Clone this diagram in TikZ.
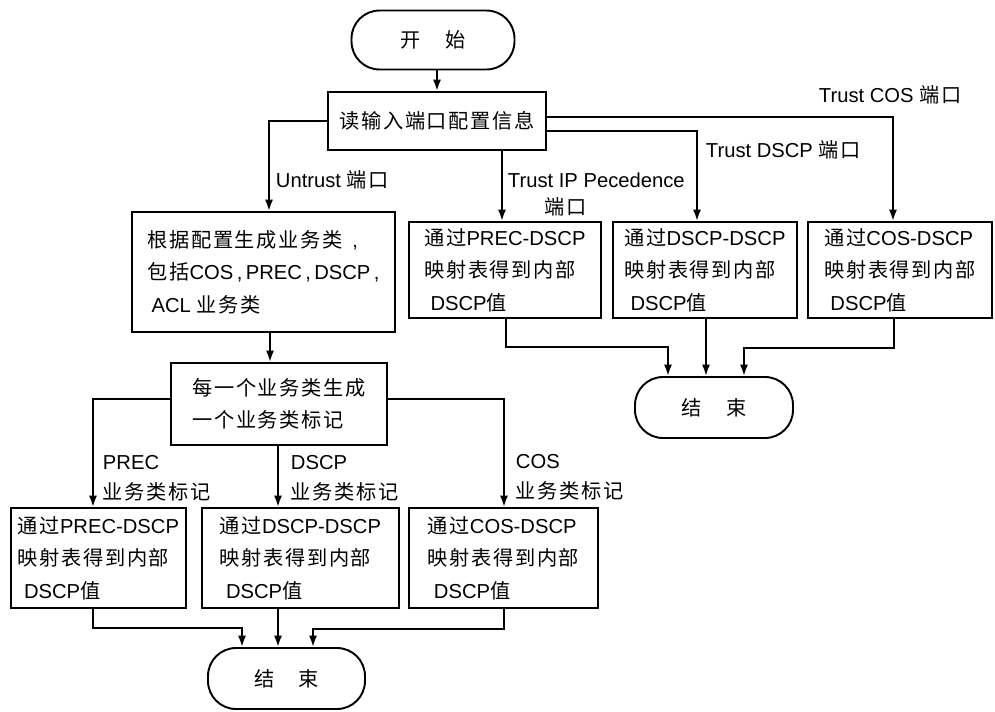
\documentclass[tikz,border=0pt]{standalone}
\usepackage{fontspec}
\setmainfont{Liberation Sans}
\newfontfamily\cjk[LetterSpace=8]{Noto Sans CJK SC}
\newcommand{\zh}[1]{{\cjk #1}}
\usetikzlibrary{arrows.meta}
\usetikzlibrary{calc}

\begin{document}
\begin{tikzpicture}[x=0.02cm, y=-0.02cm, line width=1.1pt,
    font=\fontsize{11.5}{18.5}\selectfont,
    boite/.style={draw, align=left, inner sep=0pt},
    terminal/.style={draw, rounded corners=0.56cm},
    fleche/.style={-{Latex[length=6.5pt,width=4.6pt]}},
    etiq/.style={anchor=west, align=left, inner sep=0pt, font=\fontsize{11.5}{17}\selectfont}]
    \useasboundingbox (0,0) rectangle (995,711);

    % --- Début et lecture de la configuration ---
    \node[terminal, minimum width=3.26cm, minimum height=1.18cm] (debut) at (433,40) {\zh{开\hspace{1.2em}始}};
    \node[boite, minimum width=4.36cm, minimum height=1.16cm] (lire) at (437,121) {\zh{读输入端口配置信息}};

    % --- Branche Untrust ---
    \node[boite, minimum width=5.26cm, minimum height=2.4cm] (classes) at (263.5,272)
        {\zh{根据配置生成业务类}\enspace,\\\zh{包括}COS\,,\,PREC\,,\,DSCP\,,\\\hspace*{0.2em}ACL \zh{业务类}};
    \node[boite, minimum width=4.32cm, minimum height=1.64cm] (marque) at (279,404)
        {\zh{每一个业务类生成}\\\zh{一个业务类标记}};

    % --- Boîtes du bas (marques de classe) ---
    \node[boite, minimum width=3.5cm, minimum height=2cm] (precG) at (98.5,558)
        {\zh{通过}PREC-DSCP\\\zh{映射表得到内部}\\\hspace*{0.3em}DSCP\zh{值}};
    \node[boite, minimum width=3.94cm, minimum height=2cm] (dscpG) at (300.5,558)
        {\zh{通过}DSCP-DSCP\\\zh{映射表得到内部}\\\hspace*{0.3em}DSCP\zh{值}};
    \node[boite, minimum width=3.78cm, minimum height=2cm] (cosG) at (503.5,558)
        {\zh{通过}COS-DSCP\\\zh{映射表得到内部}\\\hspace*{0.3em}DSCP\zh{值}};
    \node[terminal, minimum width=3.14cm, minimum height=1.22cm] (finG) at (286.5,678.5) {\zh{结\hspace{1.2em}束}};

    % --- Boîtes de droite (ports Trust) ---
    \node[boite, minimum width=3.84cm, minimum height=1.92cm] (precD) at (505,270)
        {\zh{通过}PREC-DSCP\\\zh{映射表得到内部}\\\hspace*{0.3em}DSCP\zh{值}};
    \node[boite, minimum width=3.68cm, minimum height=1.92cm] (dscpD) at (705,270)
        {\zh{通过}DSCP-DSCP\\\zh{映射表得到内部}\\\hspace*{0.3em}DSCP\zh{值}};
    \node[boite, minimum width=3.68cm, minimum height=1.92cm] (cosD) at (900,270)
        {\zh{通过}COS-DSCP\\\zh{映射表得到内部}\\\hspace*{0.3em}DSCP\zh{值}};
    \node[terminal, minimum width=3.16cm, minimum height=1.22cm] (finD) at (714,407.5) {\zh{结\hspace{1.2em}束}};

    % --- Points de passage des flèches ---
    \coordinate (xU) at (269,0);
    \coordinate (xIP) at (502,0);
    \coordinate (dscpT) at (697,131);
    \coordinate (cosT) at (893,117);
    \coordinate (xC) at (270,0);
    \coordinate (yM) at (0,399);
    \coordinate (c1) at (93,0);
    \coordinate (c2) at (278,0);
    \coordinate (c3) at (504,0);
    \coordinate (g1) at (242,628);
    \coordinate (g3) at (313,629);
    \coordinate (p1) at (506,347);
    \coordinate (p3) at (894,348);
    \coordinate (d1) at (668,0);
    \coordinate (d2) at (706,0);
    \coordinate (d3) at (744,0);

    % --- Flèches du haut ---
    \draw[fleche] (debut.south -| lire.north) -- (lire.north);
    \draw[fleche] (lire.west) -| (classes.north -| xU);
    \draw[fleche] (lire.south -| xIP) -- (precD.north -| xIP);
    \draw[fleche] (lire.east |- dscpT) -| (dscpD.north -| dscpT);
    \draw[fleche] (lire.east |- cosT) -| (cosD.north -| cosT);
    \draw[fleche] (classes.south -| xC) -- (marque.north -| xC);

    % --- Flèches des marques ---
    \draw[fleche] (marque.west |- yM) -| (precG.north -| c1);
    \draw[fleche] (marque.south -| c2) -- (dscpG.north -| c2);
    \draw[fleche] (marque.east |- yM) -| (cosG.north -| c3);

    % --- Vers les deux fins ---
    \draw[fleche] (precG.south -| c1) |- (g1) -- (finG.north -| g1);
    \draw[fleche] (dscpG.south -| c2) -- (finG.north -| c2);
    \draw[fleche] (cosG.south -| c3) |- (g3) -- (finG.north -| g3);
    \draw[fleche] (precD.south -| p1) -- (p1) -| (finD.north -| d1);
    \draw[fleche] (dscpD.south -| d2) -- (finD.north -| d2);
    \draw[fleche] (cosD.south -| p3) -- (p3) -| (finD.north -| d3);

    % --- Étiquettes ---
    \node[etiq] (lUntrust) at (275,180) {Untrust \zh{端口}};
    \node[etiq] (lIP) at (507,180) {Trust IP Pecedence};
    \node[etiq] (lIPport) at (544,207) {\zh{端口}};
    \node[etiq] (lDSCP) at (705,150) {Trust DSCP \zh{端口}};
    \node[etiq] (lCOS) at (818,95) {Trust COS \zh{端口}};
    \node[etiq] (lPrec) at (102,478) {PREC\\\zh{业务类标记}};
    \node[etiq] (lDscp) at (290,478) {DSCP\\\zh{业务类标记}};
    \node[etiq] (lCos) at (515,477) {COS\\\zh{业务类标记}};

\end{tikzpicture}
\end{document}
